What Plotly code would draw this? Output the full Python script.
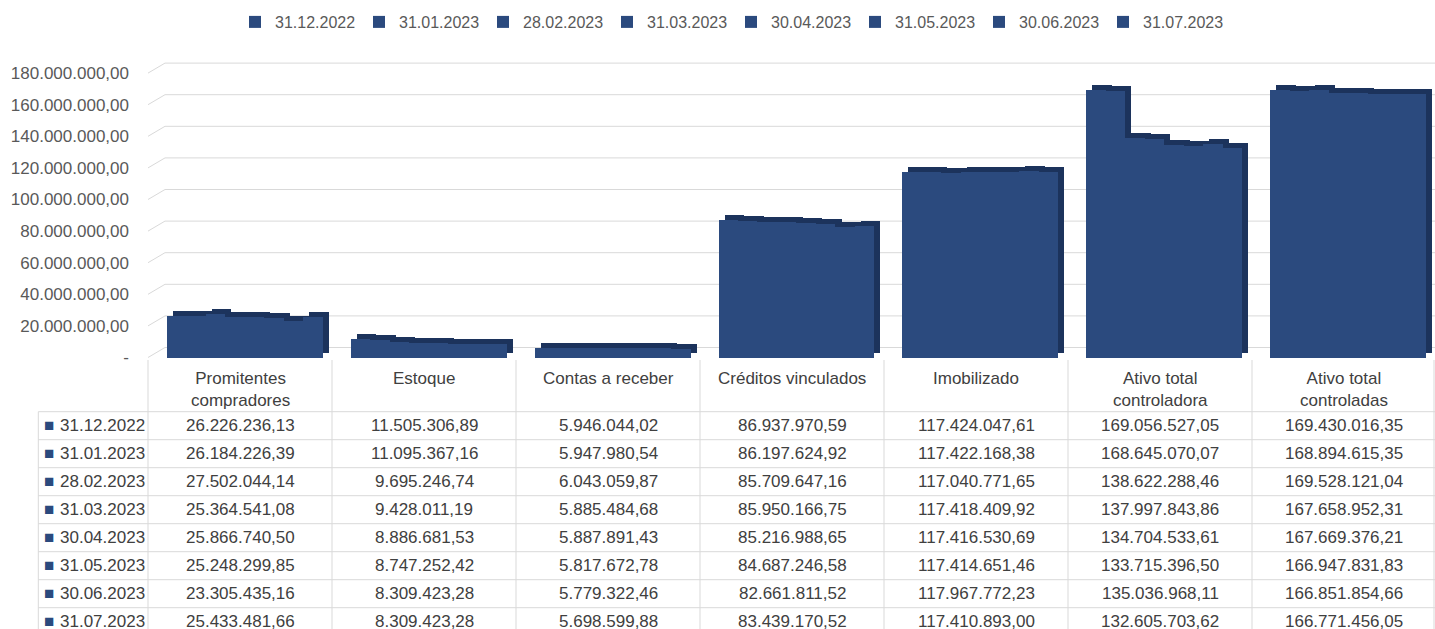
import plotly.graph_objects as go

# ---------------- data ----------------
categories = ["Promitentes compradores", "Estoque", "Contas a receber", "Créditos vinculados",
              "Imobilizado", "Ativo total controladora", "Ativo total controladas"]
header_labels = ["Promitentes<br>compradores", "Estoque", "Contas a receber", "Créditos vinculados",
                 "Imobilizado", "Ativo total<br>controladora", "Ativo total<br>controladas"]
dates = ["31.12.2022", "31.01.2023", "28.02.2023", "31.03.2023",
         "30.04.2023", "31.05.2023", "30.06.2023", "31.07.2023"]

v_31_12_2022 = [26226236.13, 11505306.89, 5946044.02, 86937970.59, 117424047.61, 169056527.05, 169430016.35]
v_31_01_2023 = [26184226.39, 11095367.16, 5947980.54, 86197624.92, 117422168.38, 168645070.07, 168894615.35]
v_28_02_2023 = [27502044.14, 9695246.74, 6043059.87, 85709647.16, 117040771.65, 138622288.46, 169528121.04]
v_31_03_2023 = [25364541.08, 9428011.19, 5885484.68, 85950166.75, 117418409.92, 137997843.86, 167658952.31]
v_30_04_2023 = [25866740.50, 8886681.53, 5887891.43, 85216988.65, 117416530.69, 134704533.61, 167669376.21]
v_31_05_2023 = [25248299.85, 8747252.42, 5817672.78, 84687246.58, 117414651.46, 133715396.50, 166947831.83]
v_30_06_2023 = [23305435.16, 8309423.28, 5779322.46, 82661811.52, 117967772.23, 135036968.11, 166851854.66]
v_31_07_2023 = [25433481.66, 8309423.28, 5698599.88, 83439170.52, 117410893.00, 132605703.62, 166771456.05]

series = [v_31_12_2022, v_31_01_2023, v_28_02_2023, v_31_03_2023,
          v_30_04_2023, v_31_05_2023, v_30_06_2023, v_31_07_2023]

y_ticks = [0, 20e6, 40e6, 60e6, 80e6, 100e6, 120e6, 140e6, 160e6, 180e6]


def fmt(v):
    s = f"{v:,.2f}"
    return s.replace(",", "X").replace(".", ",").replace("X", ".")


# ---------------- styling / geometry ----------------
W, H = 1435, 629
ML, MR, MT, MB = 148, 0, 40, 267
PW, PH = W - ML - MR, H - MT - MB
FRONT = "#2B4A7E"
SIDE = "#1C335C"
GRID = "#D9D9D9"
TXT = "#404040"
AX = "#595959"
FONT = "Liberation Sans, Arial, sans-serif"

n_cat = len(categories)
n_ser = len(series)
group_w = 0.848
bar_w = group_w / n_ser
group_shift = 0.027
depth_x = 0.033
px_per_20m = 31.6
depth_y = 5 / px_per_20m * 20e6
wall_dx_px = 17
wall_dy = 10 / px_per_20m * 20e6


def pxx(p):
    return (p - ML) / PW


def pxy(p):
    return (MT + PH - p) / PH


x_idx = list(range(n_cat))

fig = go.Figure()

# side/top faces (3D depth)
for j, vals in enumerate(series):
    fig.add_trace(go.Bar(
        x=x_idx, y=vals, base=depth_y,
        offset=group_shift - group_w / 2 + j * bar_w + depth_x, width=bar_w,
        marker=dict(color=SIDE, line=dict(width=0)),
        showlegend=False, hoverinfo="skip",
    ))
# front faces
for j, vals in enumerate(series):
    fig.add_trace(go.Bar(
        x=x_idx, y=vals, name=dates[j],
        offset=group_shift - group_w / 2 + j * bar_w, width=bar_w,
        marker=dict(color=FRONT, line=dict(width=0)),
    ))

zero_front_px = 357.5
bottom_px = MT + PH
y_min = -(bottom_px - zero_front_px) / px_per_20m * 20e6
y_max = (zero_front_px - MT) / px_per_20m * 20e6

fig.update_layout(
    width=W, height=H,
    margin=dict(l=ML, r=MR, t=MT, b=MB),
    paper_bgcolor="white", plot_bgcolor="white",
    barmode="overlay",
    font=dict(family=FONT, color=AX),
    xaxis=dict(range=[-0.5, n_cat - 0.5], showticklabels=False, showgrid=False,
               zeroline=False, showline=False, fixedrange=True),
    yaxis=dict(range=[y_min, y_max], tickvals=y_ticks,
               ticktext=["-" if t == 0 else fmt(t) for t in y_ticks],
               tickfont=dict(size=17, color=AX, family=FONT),
               ticklabelstandoff=18,
               showgrid=False, zeroline=False, showline=False),
    legend=dict(orientation="h", x=pxx(731), xanchor="center", y=pxy(22), yanchor="middle",
                font=dict(size=16, color=AX, family=FONT),
                entrywidth=79, entrywidthmode="pixels", itemwidth=30,
                bgcolor="rgba(0,0,0,0)"),
    bargap=0,
)

shapes = []
# back-wall gridlines with the 3D floor/wall diagonal at the left
for t in y_ticks:
    shapes.append(dict(type="line", xref="paper", yref="y", layer="below",
                       x0=pxx(ML + wall_dx_px), x1=1, y0=t + wall_dy, y1=t + wall_dy,
                       line=dict(color=GRID, width=1)))
    shapes.append(dict(type="line", xref="paper", yref="y", layer="below",
                       x0=0, x1=pxx(ML + wall_dx_px), y0=t, y1=t + wall_dy,
                       line=dict(color=GRID, width=1)))

# ---------------- data table ----------------
col_edges = [ML + 184 * k for k in range(n_cat + 1)]
header_top = 360
header_bottom = 411.7
row_h = 28
first_col_left = 38.3

for k, xe in enumerate(col_edges):
    xe = min(xe, W - 1)
    shapes.append(dict(type="line", xref="paper", yref="paper",
                       x0=pxx(xe), x1=pxx(xe), y0=pxy(header_top), y1=pxy(H + 5),
                       line=dict(color=GRID, width=1)))
shapes.append(dict(type="line", xref="paper", yref="paper",
                   x0=pxx(first_col_left), x1=pxx(first_col_left),
                   y0=pxy(header_bottom), y1=pxy(H + 5),
                   line=dict(color=GRID, width=1)))
for r in range(n_ser + 1):
    yy = header_bottom + r * row_h
    shapes.append(dict(type="line", xref="paper", yref="paper",
                       x0=pxx(first_col_left), x1=pxx(W), y0=pxy(yy), y1=pxy(yy),
                       line=dict(color=GRID, width=1)))

annotations = []
for i, lab in enumerate(header_labels):
    cx = ML + 184 * i + 92
    annotations.append(dict(text=lab, xref="paper", yref="paper", x=pxx(cx), y=pxy(367),
                            xanchor="center", yanchor="top", showarrow=False,
                            font=dict(size=17, color=TXT, family=FONT)))
for r, d in enumerate(dates):
    cy = header_bottom + r * row_h + row_h / 2
    annotations.append(dict(text="■", xref="paper", yref="paper", x=pxx(49.3), y=pxy(cy),
                            xanchor="center", yanchor="middle", showarrow=False,
                            font=dict(size=17, color=FRONT, family=FONT)))
    annotations.append(dict(text=d, xref="paper", yref="paper", x=pxx(58), y=pxy(cy),
                            xanchor="left", yanchor="middle", showarrow=False,
                            font=dict(size=17, color=TXT, family=FONT)))
    for i in range(n_cat):
        cx = ML + 184 * i + 92
        annotations.append(dict(text=fmt(series[r][i]), xref="paper", yref="paper",
                                x=pxx(cx), y=pxy(cy), xanchor="center", yanchor="middle",
                                showarrow=False, font=dict(size=17, color=TXT, family=FONT)))

fig.update_layout(shapes=shapes, annotations=annotations)

fig.write_html("out.html",
               config={"displayModeBar": False},
               post_script="document.body.style.margin='0';document.body.style.padding='0';")
